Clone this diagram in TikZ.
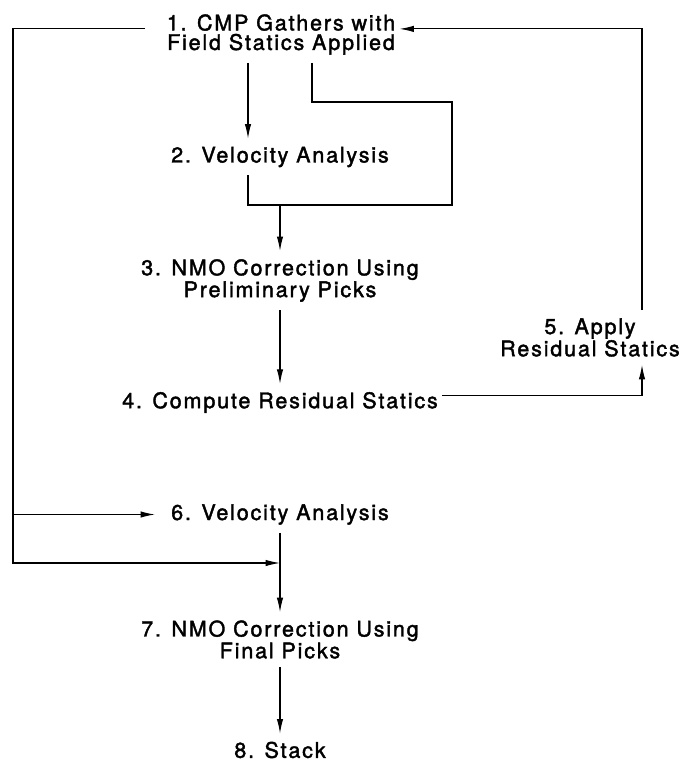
\documentclass[tikz,border=0pt]{standalone}
\usepackage{fontspec}
\setmainfont{TeX Gyre Heros}[LetterSpace=8.5, FakeBold=1.8]
\usetikzlibrary{arrows.meta}

\tikzset{
  stage/.style={align=center, inner xsep=0.1cm, inner ysep=0.2cm, font=\fontsize{15.3}{13.9}\selectfont},
  flow/.style={line width=0.8pt},
  arr/.style={flow, -{Latex[length=3.6mm, width=1.6mm]}}
}

\begin{document}
\begin{tikzpicture}[x=0.025cm, y=-0.025cm]
        \useasboundingbox (0,0) rectangle (678,763);

        \node[stage] (n1) at (281,34.5) {1. CMP Gathers with\\Field Statics Applied};
        \node[stage] (n2) at (280,157) {2. Velocity Analysis};
        \node[stage] (n3) at (280,280.5) {3. NMO Correction Using\\Preliminary Picks};
        \node[stage] (n4) at (280,402.5) {4. Compute Residual Statics};
        \node[stage] (n5) at (590,337.5) {5. Apply\\Residual Statics};
        \node[stage] (n6) at (280,514.5) {6. Velocity Analysis};
        \node[stage] (n7) at (280,639.5) {7. NMO Correction Using\\Final Picks};
        \node[stage] (n8) at (280,750) {8. Stack};

        \coordinate (cA) at (248,0);
        \coordinate (cB) at (312,0);
        \coordinate (cC) at (642,0);
        \coordinate (r1) at (452,102);
        \coordinate (j2) at (248,205);
        \coordinate (lb) at (13,563);

        \draw[arr] (n1.south -| cA) -- (n2.north -| cA);
        \draw[flow] (n1.south -| cB) |- (r1) |- (j2) -- (n2.south -| cA);
        \draw[arr] (j2 -| n3) -- (n3);
        \draw[arr] (n3) -- (n4);
        \draw[arr] ([yshift=0.18cm]n4.east) -| (n5.south -| cC);
        \draw[arr] (n5.north -| cC) |- ([yshift=0.14cm]n1.east);
        \draw[arr] ([shift={(-0.45cm,0.14cm)}]n1.west) -| (lb) -- (lb -| n7);
        \draw[arr] (n6.west -| lb) -- ([xshift=-0.3cm]n6.west);
        \draw[arr] (n6) -- (n7);
        \draw[arr] (n7) -- (n8);
      \end{tikzpicture}
\end{document}
